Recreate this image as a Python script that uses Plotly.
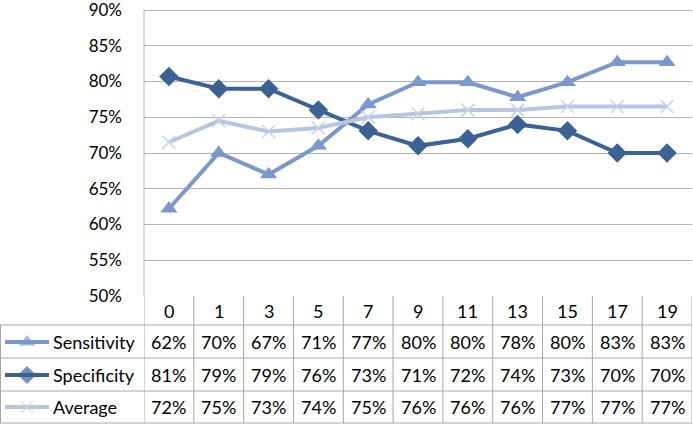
import plotly.graph_objects as go

# data
categories = ['0', '1', '3', '5', '7', '9', '11', '13', '15', '17', '19']
sensitivity = [62.2, 70, 67, 71, 76.8, 79.9, 79.9, 77.8, 79.9, 82.7, 82.7]
specificity = [80.7, 79, 79, 76, 73.1, 71, 72, 74, 73.1, 70, 70]
average = [71.5, 74.5, 73, 73.5, 75, 75.5, 76, 76, 76.5, 76.5, 76.5]
table_sens = ['62%', '70%', '67%', '71%', '77%', '80%', '80%', '78%', '80%', '83%', '83%']
table_spec = ['81%', '79%', '79%', '76%', '73%', '71%', '72%', '74%', '73%', '70%', '70%']
table_avg = ['72%', '75%', '73%', '74%', '75%', '76%', '76%', '76%', '77%', '77%', '77%']
y_ticks = [50, 55, 60, 65, 70, 75, 80, 85, 90]

W, H = 693, 425
FONT = 'Lato'
GRID = '#b4b4b4'
TBL = '#a6a6a6'

series = [
    dict(name='Sensitivity', y=sensitivity, cells=table_sens, color='#7b98cb',
         symbol='triangle-up', size=15, mcolor='#7b98cb', mline=0),
    dict(name='Specificity', y=specificity, cells=table_spec, color='#3b6195',
         symbol='diamond', size=15, mcolor='#3b6195', mline=0),
    dict(name='Average', y=average, cells=table_avg, color='#b7c6e0',
         symbol='x-thin', size=13, mcolor='#c5d2e8', mline=1.5),
]


def py(p):
    # pixel row -> paper y
    return 1 - p / H


plot_left, plot_right, plot_top, plot_bottom = 144, 692, 10, 296
row_lines = [325, 358, 391, 423]
row_centers = [311, 342, 375, 407]
# extend the y domain to the top edge so the 90% gridline is not clipped
y_top = 50 + 40 * plot_bottom / (plot_bottom - plot_top)

fig = go.Figure()

for s in series:
    fig.add_trace(go.Scatter(
        x=list(range(len(categories))), y=s['y'], mode='lines+markers',
        name=s['name'], text=categories,
        hovertemplate='%{text}: %{y}%<extra>' + s['name'] + '</extra>',
        line=dict(color=s['color'], width=4),
        marker=dict(symbol=s['symbol'], size=s['size'], color=s['mcolor'],
                    line=dict(width=s['mline'], color=s['mcolor'])),
        showlegend=False, xaxis='x', yaxis='y',
    ))

# legend keys inside the table, on a pixel-scaled axis pair
for s, rc in zip(series, row_centers[1:]):
    fig.add_trace(go.Scatter(
        x=[5, 27, 49], y=[rc, rc, rc], mode='lines+markers',
        line=dict(color=s['color'], width=4),
        marker=dict(symbol=s['symbol'], size=[0, s['size'] - 1, 0],
                    color=s['mcolor'],
                    line=dict(width=s['mline'], color=s['mcolor'])),
        showlegend=False, hoverinfo='skip', xaxis='x2', yaxis='y2',
    ))

shapes = []
# plot-area left border
shapes.append(dict(type='line', xref='paper', yref='paper',
                   x0=plot_left / W, x1=plot_left / W,
                   y0=py(plot_top), y1=py(plot_bottom),
                   line=dict(color=GRID, width=1)))
# table vertical lines
for i in range(len(categories) + 1):
    shapes.append(dict(type='line', xref='x', yref='paper',
                       x0=i - 0.5, x1=i - 0.5,
                       y0=py(plot_bottom), y1=py(row_lines[-1]),
                       line=dict(color=TBL, width=1)))
shapes.append(dict(type='line', xref='paper', yref='paper', x0=0.5 / W, x1=0.5 / W,
                   y0=py(row_lines[0]), y1=py(row_lines[-1]),
                   line=dict(color=TBL, width=1)))
# table horizontal lines
for r in row_lines:
    shapes.append(dict(type='line', xref='paper', yref='paper',
                       x0=0, x1=plot_right / W, y0=py(r), y1=py(r),
                       line=dict(color=TBL, width=1)))

annotations = []
for i, c in enumerate(categories):
    annotations.append(dict(x=i, y=py(row_centers[0]), xref='x', yref='paper',
                            text=c, showarrow=False, yanchor='middle',
                            font=dict(family=FONT, size=18, color='#000000')))
for s, rc in zip(series, row_centers[1:]):
    annotations.append(dict(x=51 / W, y=py(rc), xref='paper', yref='paper',
                            text=s['name'], showarrow=False, xanchor='left',
                            align='left', yanchor='middle',
                            font=dict(family=FONT, size=18, color='#000000')))
    for i, v in enumerate(s['cells']):
        annotations.append(dict(x=i, y=py(rc), xref='x', yref='paper',
                                text=v, showarrow=False, yanchor='middle',
                                font=dict(family=FONT, size=18, color='#000000')))

fig.update_layout(
    width=W, height=H, autosize=False,
    margin=dict(l=0, r=0, t=0, b=0, pad=0, autoexpand=False),
    paper_bgcolor='white', plot_bgcolor='rgba(0,0,0,0)',
    font=dict(family=FONT, size=18, color='#000000'),
    hovermode='closest',
    xaxis=dict(domain=[plot_left / W, plot_right / W],
               range=[-0.5, len(categories) - 0.5], showticklabels=False,
               showgrid=False, zeroline=False, showline=False, ticks='',
               automargin=False, fixedrange=True),
    yaxis=dict(domain=[py(plot_bottom), 1], range=[50, y_top],
               tickvals=y_ticks, ticktext=[f'{v}%' for v in y_ticks],
               showgrid=True, gridcolor=GRID, gridwidth=1, zeroline=False,
               showline=False, ticks='', ticklabelstandoff=21,
               ticklabeloverflow='allow', automargin=False,
               tickfont=dict(family=FONT, size=17), fixedrange=True),
    xaxis2=dict(domain=[0, 1], range=[0, W], visible=False, anchor='y2',
                automargin=False, fixedrange=True),
    yaxis2=dict(domain=[0, 1], range=[H, 0], visible=False, anchor='x2',
                automargin=False, fixedrange=True),
    shapes=shapes,
    annotations=annotations,
)

page_fix = (
    "document.documentElement.style.overflow='hidden';"
    "document.body.style.margin='0';"
    "document.body.style.overflow='hidden';"
)
fig.write_html('out.html', config={'displayModeBar': False}, post_script=page_fix)
